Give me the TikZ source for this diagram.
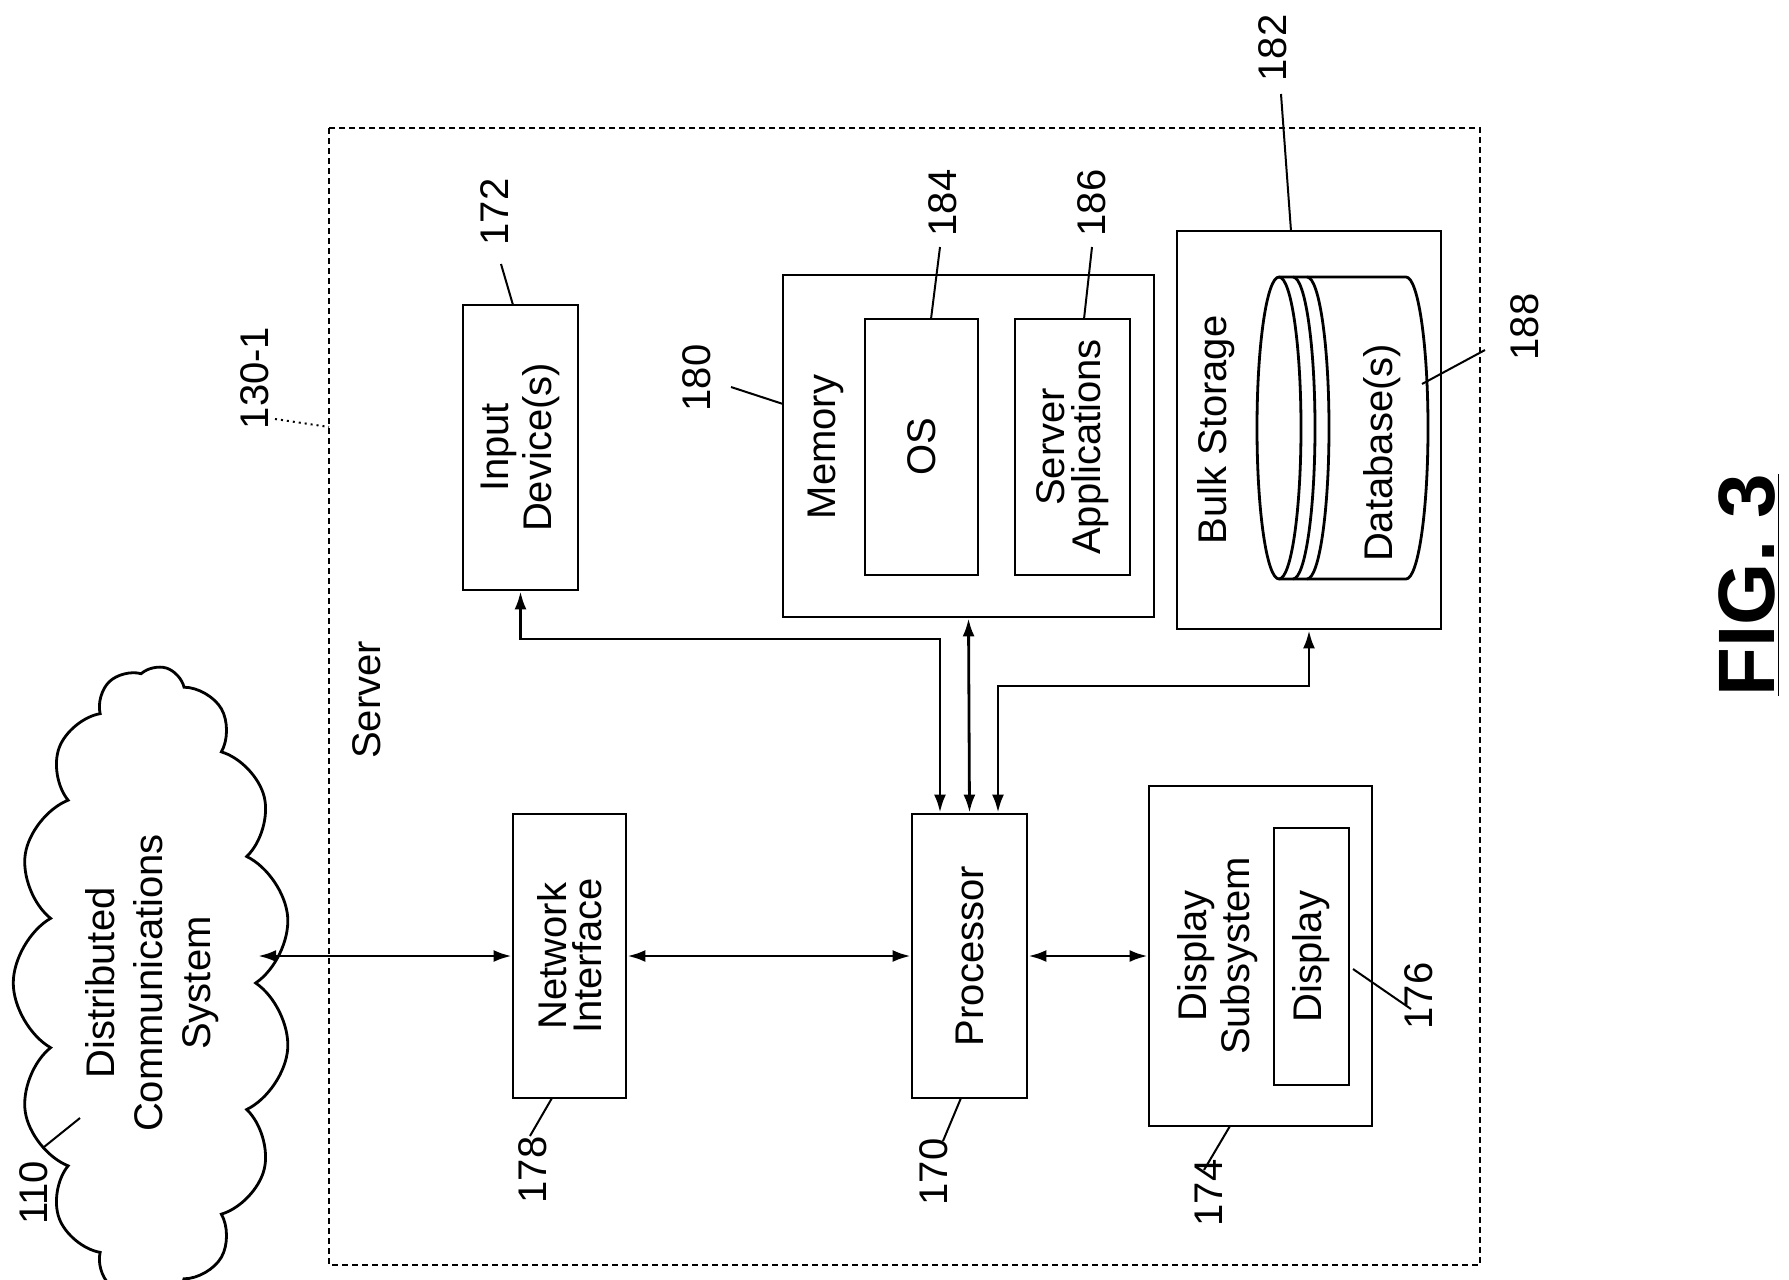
\documentclass[tikz,border=0pt]{standalone}
\usepackage{fontspec}
\setmainfont{Liberation Sans}
\usetikzlibrary{arrows.meta,calc,shapes.symbols}

\tikzset{
  box/.style={draw,line width=1.4pt,inner sep=0pt},
  txt/.style={font=\fontsize{20}{24}\selectfont,align=center},
  num/.style={font=\fontsize{20}{24}\selectfont,rotate=90,inner sep=1pt},
  lead/.style={line width=1pt},
  bi/.style={line width=1.4pt,{Latex[length=9pt,width=6pt]}-{Latex[length=9pt,width=6pt]}}
}

\begin{document}
\begin{tikzpicture}[x=0.5pt,y=0.5pt,yscale=-1]
\useasboundingbox (0,0) rectangle (1789,1280);

% server frame
\draw [dash pattern={on 3pt off 2pt},line width=1pt] (329,128) rectangle (1480,1265);
\node (srvlbl) [txt,rotate=90] at (367,700) {Server};

% boxes
\node (input) [box,minimum width=57.5pt,minimum height=142.5pt] at (520.5,447.5) {};
\node [txt] at (input) {\rotatebox{90}{\shortstack{Input\\Device(s)}}};
\node (mem) [box,minimum width=185.5pt,minimum height=171pt] at (968.5,446) {};
\node [txt] at (826,447) {\rotatebox{90}{Memory}};
\node (os) [box,minimum width=56.5pt,minimum height=128pt] at (921.5,447) {};
\node [txt] at (os) {\rotatebox{90}{OS}};
\node (apps) [box,minimum width=57.5pt,minimum height=128pt] at (1072.5,447) {};
\node [txt] at (apps) {\rotatebox{90}{\shortstack{Server\\Applications}}};
\node (bulk) [box,minimum width=132pt,minimum height=199pt] at (1309,430) {};
\node [txt] at (1216,430) {\rotatebox{90}{Bulk Storage}};
\node (net) [box,minimum width=56.5pt,minimum height=142pt] at (569.5,956) {};
\node [txt] at (net) {\rotatebox{90}{\shortstack{Network\\Interface}}};
\node (proc) [box,minimum width=57.5pt,minimum height=142pt] at (969.5,956) {};
\node [txt] at (proc) {\rotatebox{90}{Processor}};
\node (disp) [box,minimum width=111.5pt,minimum height=170pt] at (1260.5,956) {};
\node [txt] at (1218,956) {\rotatebox{90}{\shortstack{Display\\Subsystem}}};
\node (scr) [box,minimum width=37.5pt,minimum height=128.5pt] at (1311.5,956.5) {};
\node [txt] at (scr) {\rotatebox{90}{Display}};

% database cylinder
\draw [line width=1.4pt] (1279,277) arc (270:90:22 and 151) -- (1406,579) arc (90:-90:22 and 151) -- cycle;
\foreach \dx in {0,14,28}
  \draw [line width=1.4pt] (1279+\dx,277) arc (270:450:22 and 151);
\node [txt] at (1382,453) {\rotatebox{90}{Database(s)}};

% cloud
\node (cloud) [draw,line width=1.4pt,cloud,cloud puffs=15,cloud puff arc=120,aspect=3,
  minimum width=235pt,minimum height=70pt,rotate=90,txt] at (152,983)
  {Distributed\\Communications\\System};

% connectors
\draw [bi] (net.west -| cloud.south) -- (net.west);
\draw [bi] (net.east) -- (proc.west);
\draw [bi] (proc.east) -- (disp.west);
\draw [bi] (proc.north) -- (mem.south);
\coordinate (busL) at (940,639);
\coordinate (busR) at (998,686);
\draw [bi] (busL |- proc.north) -- (busL) -| (input.south);
\draw [bi] (busR |- proc.north) -- (busR) -| (bulk.south);

% reference numerals
\node (n130) [num] at (255,378) {130-1};
\draw [lead,dotted] (275,419) -- (329,427);
\node (n172) [num] at (495,212) {172};
\draw [lead] (501,264) -- (513,305);
\node (n184) [num] at (943,203) {184};
\draw [lead] (940,247) -- (931,319);
\node (n186) [num] at (1092,203) {186};
\draw [lead] (1092,247) -- (1084,319);
\node (n182) [num] at (1273,48) {182};
\draw [lead] (1281,94) -- (1291,231);
\node (n180) [num] at (697,378) {180};
\draw [lead] (731,387) -- (783,404);
\node (n188) [num] at (1525,327) {188};
\draw [lead] (1485,350) -- (1422,384);
\node (n176) [num] at (1419,996) {176};
\draw [lead] (1353,969) -- (1411,1009);
\node (n110) [num] at (34,1193) {110};
\draw [lead] (44,1147) -- (80,1118);
\node (n178) [num] at (533,1170) {178};
\draw [lead] (530,1136) -- (552,1098);
\node (n170) [num] at (934,1172) {170};
\draw [lead] (943,1141) -- (961,1098);
\node (n174) [num] at (1209,1193) {174};
\draw [lead] (1204,1170) -- (1230,1126);

\node (fig) [rotate=90,font=\fontsize{40}{44}\selectfont\bfseries] at (1749,585) {\underline{FIG. 3}};
\end{tikzpicture}
\end{document}
